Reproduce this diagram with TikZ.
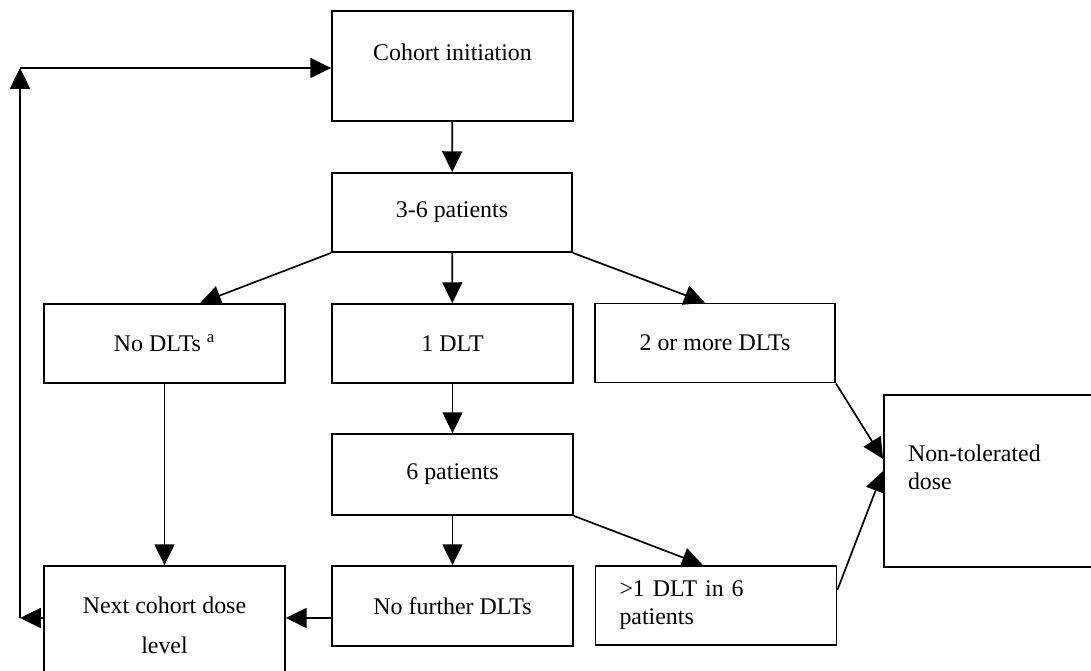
\documentclass[tikz,border=0pt]{standalone}
\usepackage{fontspec}
\setmainfont{Liberation Serif}
\usetikzlibrary{arrows.meta}

\begin{document}
\begin{tikzpicture}[
  box/.style={draw, rectangle, line width=1.3pt, minimum width=6.025cm, minimum height=1.975cm, align=center, inner sep=2pt, font=\fontsize{17}{19.9}\selectfont},
  leftbox/.style={box, align=left, text width=4.825cm, inner xsep=0.6cm},
  arrow/.style={-{Triangle[length=0.52cm, width=0.5cm]}, line width=1.2pt}
]
\path[use as bounding box, clip] (0,0) rectangle (27.275,16.775);

\node[box, minimum height=2.75cm] (cohort) at (11.3125, 15.125) {Cohort initiation\\~};
\node[box, minimum width=6cm] (p36) at (11.3, 11.4625) {3-6 patients};
\draw[arrow] (cohort) -- (p36);

\node[box] (nodlt) at (4.1125, 8.1875) {No DLTs \textsuperscript{a}};
\node[box] (onedlt) at (11.3125, 8.1875) {1 DLT};
\node[box, minimum width=6cm] (twodlt) at (17.875, 8.2) {2 or more DLTs};
\draw[arrow] (p36.south west) -- ([xshift=0.89cm]nodlt.north);
\draw[arrow] (p36) -- (onedlt);
\draw[arrow] (p36.south east) -- ([xshift=-0.25cm]twodlt.north);

\node[box, minimum height=2.025cm] (sixpat) at (11.3125, 4.9125) {6 patients};
\draw[arrow] (onedlt) -- (sixpat);

\node[leftbox, minimum height=4.3cm] (nontol) at (25.1125, 4.75) {Non-tolerated\\dose\\~};
\draw[arrow] (twodlt.south east) -- ([yshift=0.55cm]nontol.west);

\node[box, minimum height=2cm] (nofurther) at (11.3125, 1.625) {No further DLTs};
\node[leftbox, minimum height=1.975cm] (gtone) at (17.9, 1.6375) {>1 DLT in 6\\patients};
\draw[arrow] (sixpat) -- (nofurther);
\draw[arrow] (sixpat.south east) -- ([xshift=-0.33cm]gtone.north);
\draw[arrow] ([yshift=0.39cm]gtone.east) -- ([yshift=0.25cm]nontol.west);

\node[box, minimum height=2.95cm] (next) at (4.1125, 1.15) {Next cohort dose\\[0.3cm]level};
\draw[arrow] (nodlt) -- (next);

% loop back to the start
\coordinate (loopbot) at (0.5, 1.325);
\coordinate (looptop) at (0.5, 15.075);
\draw[arrow] (nofurther.west |- loopbot) -- (next.east |- loopbot);
\draw[arrow] (next.west |- loopbot) -- (loopbot);
\draw[arrow] (loopbot) -- (looptop);
\draw[arrow] (looptop) -- (looptop -| cohort.west);

\end{tikzpicture}
\end{document}
